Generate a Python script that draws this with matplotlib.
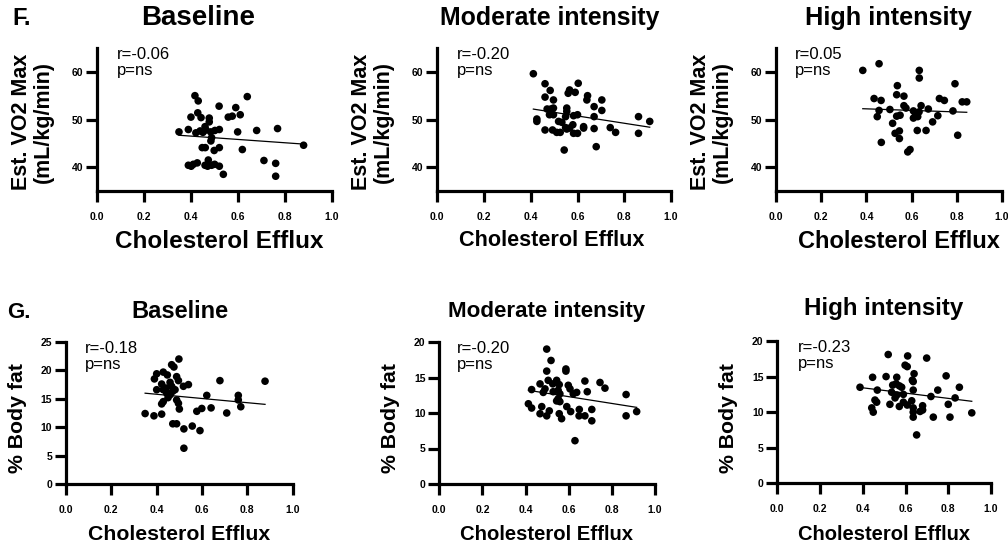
import numpy as np
import matplotlib
matplotlib.use("Agg")
import matplotlib.pyplot as plt

plt.rcParams['font.family'] = ['Liberation Sans', 'DejaVu Sans']

# ---- data ----
vo2_base_x = [0.416, 0.43, 0.519, 0.639, 0.59, 0.558, 0.575, 0.609, 0.399, 0.428, 0.442, 0.477,
              0.477, 0.348, 0.388, 0.42, 0.438, 0.459, 0.463, 0.483, 0.501, 0.52, 0.487, 0.484,
              0.598, 0.679, 0.768, 0.879, 0.447, 0.46, 0.498, 0.52, 0.618, 0.388, 0.409, 0.426,
              0.459, 0.473, 0.487, 0.52, 0.537, 0.71, 0.76, 0.76, 0.47, 0.45, 0.50, 0.40]
vo2_base_y = [55.0, 53.9, 52.8, 54.8, 52.5, 50.5, 50.7, 51.0, 50.5, 51.4, 50.4, 50.3,
              49.5, 47.4, 47.9, 47.2, 47.6, 48.5, 47.8, 47.4, 47.7, 47.9, 46.2, 45.5,
              47.4, 47.7, 48.1, 44.6, 44.1, 44.1, 43.5, 44.1, 43.7, 40.4, 40.6, 40.9,
              40.4, 41.5, 40.4, 40.2, 38.5, 41.4, 40.8, 38.1, 40.2, 47.3, 40.6, 40.2]

vo2_mod_x = [0.411, 0.461, 0.483, 0.461, 0.497, 0.47, 0.486, 0.497, 0.48, 0.497, 0.426, 0.426,
             0.519, 0.533, 0.461, 0.493, 0.511, 0.526, 0.549, 0.554, 0.566, 0.554, 0.554, 0.56,
             0.566, 0.59, 0.603, 0.549, 0.583, 0.6, 0.583, 0.6, 0.58, 0.626, 0.626, 0.64,
             0.643, 0.671, 0.671, 0.704, 0.704, 0.671, 0.68, 0.74, 0.763, 0.543, 0.861, 0.861, 0.909]
vo2_mod_y = [59.6, 57.5, 56.1, 54.7, 54.1, 52.2, 52.2, 52.4, 51.0, 51.0, 50.1, 49.6,
             49.6, 49.4, 47.8, 47.8, 47.3, 47.3, 48.3, 48.0, 48.2, 52.4, 51.7, 55.5,
             56.2, 55.7, 57.6, 50.6, 50.8, 51.0, 47.1, 47.1, 48.9, 48.5, 48.2, 54.1,
             55.0, 52.7, 50.6, 54.1, 51.9, 48.1, 44.3, 48.3, 47.3, 43.6, 50.6, 47.1, 49.6]

vo2_high_x = [0.384, 0.456, 0.634, 0.634, 0.537, 0.792, 0.434, 0.465, 0.534, 0.566, 0.723, 0.745,
              0.824, 0.844, 0.456, 0.448, 0.504, 0.549, 0.534, 0.566, 0.575, 0.608, 0.618, 0.633,
              0.642, 0.627, 0.608, 0.674, 0.716, 0.693, 0.783, 0.516, 0.527, 0.546, 0.546, 0.625,
              0.664, 0.466, 0.583, 0.593, 0.804]
vo2_high_y = [60.3, 61.7, 60.3, 58.7, 57.1, 57.5, 54.4, 54.0, 55.2, 54.9, 54.4, 54.0,
              53.7, 53.7, 51.9, 50.6, 52.1, 50.9, 50.7, 52.9, 52.4, 51.8, 51.2, 51.6,
              52.9, 50.6, 50.3, 52.2, 50.8, 49.5, 51.8, 49.2, 47.1, 47.6, 46.0, 47.7,
              47.7, 45.2, 43.2, 43.7, 46.7]

fat_base_x = [0.498, 0.466, 0.476, 0.4, 0.39, 0.429, 0.447, 0.488, 0.496, 0.679, 0.878, 0.4,
              0.422, 0.459, 0.429, 0.444, 0.466, 0.481, 0.459, 0.518, 0.54, 0.488, 0.496, 0.429,
              0.422, 0.5, 0.621, 0.76, 0.76, 0.771, 0.709, 0.577, 0.599, 0.64, 0.349, 0.388,
              0.422, 0.471, 0.488, 0.52, 0.557, 0.591, 0.52, 0.45, 0.47, 0.44]
fat_base_y = [22.0, 21.0, 20.6, 19.4, 18.5, 19.7, 19.2, 18.9, 18.2, 18.2, 18.1, 16.6,
              17.6, 17.9, 16.6, 16.0, 17.2, 16.6, 15.7, 17.2, 17.5, 14.8, 14.2, 14.5,
              14.1, 13.2, 15.6, 15.6, 14.8, 13.6, 12.5, 12.8, 13.3, 13.4, 12.4, 12.0,
              12.3, 10.6, 10.6, 9.7, 10.2, 9.4, 6.3, 15.2, 16.3, 16.9]

fat_mod_x = [0.498, 0.518, 0.498, 0.587, 0.587, 0.467, 0.505, 0.526, 0.544, 0.556, 0.428, 0.49,
             0.482, 0.528, 0.551, 0.559, 0.551, 0.559, 0.544, 0.598, 0.606, 0.621, 0.637, 0.675,
             0.686, 0.745, 0.768, 0.866, 0.866, 0.915, 0.413, 0.428, 0.475, 0.467, 0.498, 0.51,
             0.556, 0.567, 0.591, 0.609, 0.649, 0.648, 0.675, 0.707, 0.707, 0.629]
fat_mod_y = [19.0, 17.4, 15.9, 16.2, 15.9, 14.1, 14.6, 14.1, 14.6, 14.0, 13.3, 13.4,
             12.9, 13.0, 13.2, 12.7, 12.0, 11.6, 11.7, 13.9, 13.4, 12.7, 12.9, 14.5,
             13.0, 14.3, 13.5, 12.6, 9.6, 10.2, 11.3, 10.7, 10.9, 9.9, 9.6, 10.3,
             9.9, 9.2, 10.9, 10.2, 10.5, 9.6, 9.6, 10.5, 8.9, 6.1]

fat_high_x = [0.387, 0.446, 0.468, 0.457, 0.465, 0.442, 0.449, 0.509, 0.519, 0.559, 0.54, 0.556,
              0.571, 0.582, 0.535, 0.559, 0.551, 0.59, 0.61, 0.598, 0.608, 0.64, 0.632, 0.636,
              0.636, 0.699, 0.527, 0.571, 0.59, 0.608, 0.629, 0.636, 0.636, 0.636, 0.668, 0.68,
              0.68, 0.719, 0.751, 0.79, 0.8, 0.832, 0.852, 0.73, 0.808, 0.91, 0.652]
fat_high_y = [13.5, 14.9, 13.1, 11.7, 11.4, 10.6, 10.0, 15.0, 18.1, 14.9, 13.8, 14.0,
              13.7, 13.5, 12.8, 12.4, 12.0, 12.5, 17.9, 16.6, 16.4, 15.4, 14.5, 14.3,
              13.1, 17.6, 11.1, 10.8, 11.4, 11.0, 11.6, 10.6, 10.0, 9.3, 10.1, 10.9,
              10.3, 12.2, 13.1, 15.1, 11.1, 12.0, 13.5, 9.3, 9.3, 9.9, 6.8]

titles = ['Baseline', 'Moderate intensity', 'High intensity']
r_texts_vo2 = ['r=-0.06', 'r=-0.20', 'r=0.05']
r_texts_fat = ['r=-0.18', 'r=-0.20', 'r=-0.23']
x_ticks = [0.0, 0.2, 0.4, 0.6, 0.8, 1.0]
vo2_ticks = [40, 50, 60]
fat_ticks_base = [0, 5, 10, 15, 20, 25]
fat_ticks = [0, 5, 10, 15, 20]

W, H = 1008, 550
fig = plt.figure(figsize=(W / 100, H / 100), dpi=100)


def add_ax(l, t, r, b):
    return fig.add_axes([l / W, 1 - b / H, (r - l) / W, (b - t) / H])


def fx(px):
    return px / W


def fy(py):
    return 1 - py / H


def style(ax, yticks, ylim):
    for s in ['top', 'right']:
        ax.spines[s].set_visible(False)
    for s in ['left', 'bottom']:
        ax.spines[s].set_linewidth(2.3)
    ax.set_xlim(0, 1.0)
    ax.set_ylim(*ylim)
    ax.set_xticks(x_ticks)
    ax.set_xticklabels([f'{v:.1f}' for v in x_ticks])
    ax.set_yticks(yticks)
    ax.tick_params(axis='both', direction='out', length=8, width=2.3, labelsize=7.5)
    ax.tick_params(axis='x', pad=7)
    ax.tick_params(axis='y', pad=2)
    for lab in ax.get_xticklabels() + ax.get_yticklabels():
        lab.set_fontweight('bold')


def scatter_fit(ax, x, y):
    x = np.array(x)
    y = np.array(y)
    ax.scatter(x, y, s=30, color='black', edgecolors='none', zorder=3, clip_on=False)
    k, b = np.polyfit(x, y, 1)
    xs = np.array([x.min(), x.max()])
    ax.plot(xs, k * xs + b, color='black', lw=0.9, zorder=2)


# top row (F)
f_boxes = [(97.3, 48, 332, 191), (437.3, 48, 671, 191), (776, 48, 1002, 191)]
f_data = [(vo2_base_x, vo2_base_y), (vo2_mod_x, vo2_mod_y), (vo2_high_x, vo2_high_y)]
f_title_x = [198, 550, 888]
f_title_size = [20, 17.9, 18.2]
f_ylab_x = [32, 372, 711]
f_xlab_x = [219, 552, 899]
f_xlab_size = [17.5, 15.6, 17]
for i in range(3):
    ax = add_ax(*f_boxes[i])
    scatter_fit(ax, *f_data[i])
    style(ax, vo2_ticks, (35, 65))
    ax.text(0.085, 1.01, r_texts_vo2[i] + '\np=ns', transform=ax.transAxes,
            ha='left', va='top', fontsize=12, linespacing=1.1)
    fig.text(fx(f_title_x[i]), fy(25), titles[i], ha='center', va='baseline',
             fontsize=f_title_size[i], fontweight='bold')
    fig.text(fx(f_ylab_x[i]), fy(122), 'Est. VO2 Max\n(mL/kg/min)', rotation=90,
             ha='center', va='center', multialignment='center',
             fontsize=15.5, fontweight='bold', linespacing=1.05)
    fig.text(fx(f_xlab_x[i]), fy(241), 'Cholesterol Efflux', ha='center', va='center',
             fontsize=f_xlab_size[i], fontweight='bold')

fig.text(fx(12), fy(25), 'F.', ha='left', va='baseline', fontsize=17, fontweight='bold')

# bottom row (G)
g_boxes = [(66, 342, 292.7, 484), (439.3, 342, 655, 484), (777.3, 341, 991, 483.3)]
g_data = [(fat_base_x, fat_base_y), (fat_mod_x, fat_mod_y), (fat_high_x, fat_high_y)]
g_ticks = [fat_ticks_base, fat_ticks, fat_ticks]
g_ylim = [(0, 25), (0, 20), (0, 20)]
g_title_x = [180, 547, 884]
g_title_base = [318, 317, 315]
g_title_size = [17, 16.1, 17.4]
g_ylab_x = [18, 391, 729]
g_xlab_x = [179, 546, 884]
g_xlab_size = [15.3, 14.6, 14.5]
g_rx = [0.084, 0.082, 0.098]
for i in range(3):
    ax = add_ax(*g_boxes[i])
    scatter_fit(ax, *g_data[i])
    style(ax, g_ticks[i], g_ylim[i])
    ax.text(g_rx[i], 1.01, r_texts_fat[i] + '\np=ns', transform=ax.transAxes,
            ha='left', va='top', fontsize=12, linespacing=1.1)
    fig.text(fx(g_title_x[i]), fy(g_title_base[i]), titles[i], ha='center', va='baseline',
             fontsize=g_title_size[i], fontweight='bold')
    fig.text(fx(g_ylab_x[i]), fy(418), '% Body fat', rotation=90, ha='center', va='center',
             fontsize=15.3, fontweight='bold')
    fig.text(fx(g_xlab_x[i]), fy(535), 'Cholesterol Efflux', ha='center', va='center',
             fontsize=g_xlab_size[i], fontweight='bold')

fig.text(fx(7), fy(318), 'G.', ha='left', va='baseline', fontsize=16, fontweight='bold')

fig.savefig('out.png', dpi=100)
